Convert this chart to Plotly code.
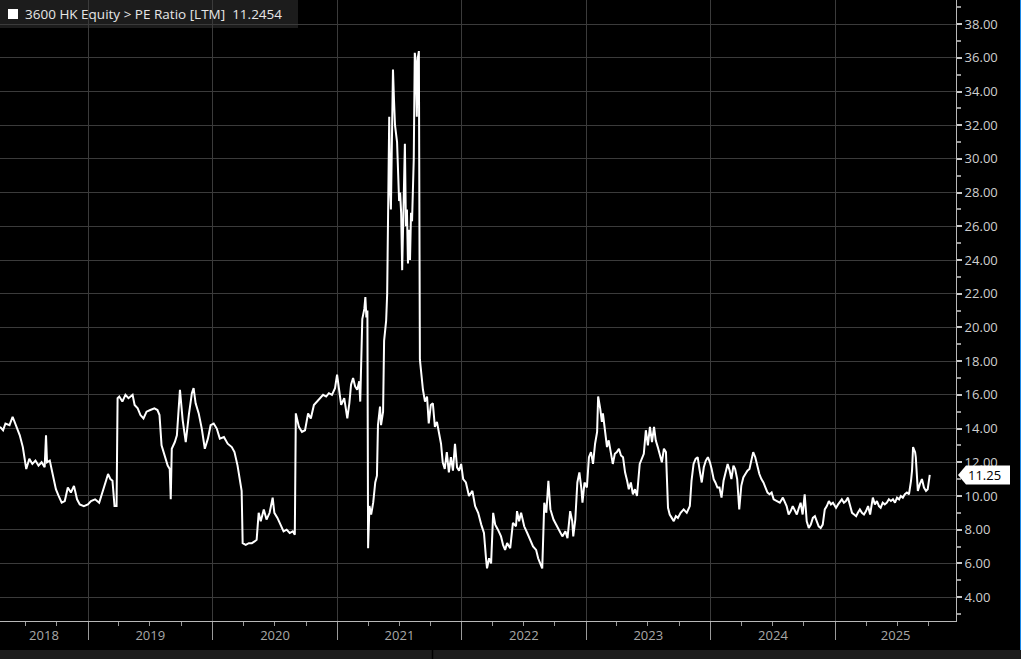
import pandas as pd
import plotly.graph_objects as go

# ---------------- data ----------------
d2018 = ["2018-04-17","2018-04-26","2018-05-03","2018-05-15","2018-05-24","2018-05-30","2018-06-05","2018-06-14",
         "2018-06-23","2018-06-29","2018-07-03","2018-07-12","2018-07-21","2018-07-30","2018-08-08","2018-08-17",
         "2018-08-26","2018-08-30","2018-09-02","2018-09-10","2018-09-19","2018-09-28","2018-10-06","2018-10-15",
         "2018-10-24","2018-11-02","2018-11-11","2018-11-20","2018-11-29","2018-12-07","2018-12-19","2018-12-31"]
v2018 = [14.1,13.9,14.3,14.2,14.7,14.4,14.0,13.6,12.9,12.0,11.6,12.2,11.9,12.1,11.8,12.0,
         11.7,13.6,12.0,12.1,11.2,10.4,10.0,9.6,9.7,10.5,10.2,10.6,9.8,9.5,9.4,9.5]

d2019 = ["2019-01-09","2019-01-21","2019-02-02","2019-02-13","2019-02-22","2019-02-28","2019-03-07","2019-03-13",
         "2019-03-19","2019-03-25","2019-03-28","2019-04-02","2019-04-11","2019-04-20","2019-04-29","2019-05-11",
         "2019-05-17","2019-05-26","2019-06-03","2019-06-12","2019-06-21","2019-07-02","2019-07-14","2019-07-23",
         "2019-07-29","2019-08-04","2019-08-13","2019-08-22","2019-08-28","2019-08-31","2019-09-03","2019-09-12",
         "2019-09-18","2019-09-27","2019-10-05","2019-10-14","2019-10-23","2019-11-01","2019-11-06","2019-11-12",
         "2019-11-21","2019-11-30","2019-12-09","2019-12-18","2019-12-26"]
v2019 = [9.7,9.8,9.6,10.4,10.9,11.3,11.0,10.9,9.4,9.4,15.8,15.9,15.6,16.0,15.8,16.0,
         15.4,15.2,14.8,14.6,15.0,15.1,15.2,15.1,14.8,13.0,12.4,11.8,11.6,9.8,12.8,13.2,
         13.6,16.3,14.5,13.2,14.8,16.1,16.4,15.5,14.9,14.0,12.8,13.4,14.2]

d2020 = ["2020-01-04","2020-01-13","2020-01-22","2020-02-03","2020-02-14","2020-02-26","2020-03-05","2020-03-14",
         "2020-03-20","2020-03-26","2020-03-29","2020-04-07","2020-04-16","2020-04-25","2020-05-03","2020-05-09",
         "2020-05-15","2020-05-21","2020-05-30","2020-06-07","2020-06-16","2020-06-25","2020-06-30","2020-07-09",
         "2020-07-18","2020-07-27","2020-08-05","2020-08-14","2020-08-23","2020-08-29","2020-09-01","2020-09-10",
         "2020-09-19","2020-09-28","2020-10-07","2020-10-15","2020-10-24","2020-11-02","2020-11-11","2020-11-20",
         "2020-11-29","2020-12-07","2020-12-16","2020-12-25","2020-12-31"]
v2020 = [14.3,14.0,13.4,13.5,13.1,12.9,12.6,11.8,11.0,10.3,7.2,7.1,7.2,7.2,7.3,7.4,
         9.0,8.5,9.2,8.6,9.0,9.9,9.0,8.7,8.3,7.9,8.0,7.8,7.9,7.7,14.9,14.1,
         13.8,13.9,14.9,14.6,15.4,15.6,15.8,16.0,15.9,16.1,16.0,16.4,17.2]

d2021 = ["2021-01-06","2021-01-12","2021-01-21","2021-01-30","2021-02-05","2021-02-10","2021-02-16","2021-02-22",
         "2021-02-28","2021-03-06","2021-03-09","2021-03-15","2021-03-21","2021-03-24","2021-03-27","2021-03-30",
         "2021-04-01","2021-04-05","2021-04-10","2021-04-16","2021-04-22","2021-04-27","2021-04-30","2021-05-06",
         "2021-05-09","2021-05-15","2021-05-18","2021-05-24","2021-05-27","2021-05-30","2021-06-02","2021-06-05",
         "2021-06-07","2021-06-10","2021-06-13","2021-06-16","2021-06-19","2021-06-25","2021-06-28","2021-07-01",
         "2021-07-04","2021-07-07","2021-07-10","2021-07-13","2021-07-16","2021-07-18","2021-07-21","2021-07-24",
         "2021-07-27","2021-07-30","2021-08-02","2021-08-05","2021-08-08","2021-08-10","2021-08-13","2021-08-16",
         "2021-08-19","2021-08-22","2021-08-25","2021-08-28","2021-08-31","2021-09-03","2021-09-09","2021-09-15",
         "2021-09-21","2021-09-26","2021-10-02","2021-10-08","2021-10-14","2021-10-20","2021-10-26","2021-11-01",
         "2021-11-06","2021-11-12","2021-11-18","2021-11-24","2021-11-30","2021-12-06","2021-12-12","2021-12-18",
         "2021-12-24","2021-12-30"]
v2021 = [16.2,15.4,15.8,14.6,15.5,16.6,17.0,16.5,16.3,16.8,15.6,20.5,21.1,21.8,20.6,21.0,
         6.9,9.4,8.9,9.6,10.8,11.2,14.2,15.3,14.2,15.0,19.2,20.4,22.0,29.0,32.5,28.0,
         27.0,31.2,35.3,33.5,32.0,31.0,28.3,27.5,28.0,26.8,23.4,27.2,30.0,30.9,26.0,27.0,
         23.8,25.8,24.0,26.8,26.3,27.5,30.0,36.3,35.8,32.5,36.0,36.4,18.1,17.5,16.3,15.6,
         15.9,14.3,15.4,15.5,14.1,14.4,13.7,13.1,12.0,11.6,12.6,11.4,12.3,11.5,13.1,11.7,
         11.5,11.9]

d2022 = ["2022-01-05","2022-01-13","2022-01-22","2022-02-01","2022-02-09","2022-02-18","2022-02-27","2022-03-07",
         "2022-03-13","2022-03-16","2022-03-22","2022-03-28","2022-04-03","2022-04-09","2022-04-17","2022-04-26",
         "2022-05-02","2022-05-08","2022-05-14","2022-05-23","2022-05-31","2022-06-09","2022-06-12","2022-06-18",
         "2022-06-24","2022-07-03","2022-07-12","2022-07-21","2022-07-29","2022-08-07","2022-08-13","2022-08-19",
         "2022-08-25","2022-08-31","2022-09-06","2022-09-12","2022-09-18","2022-09-27","2022-10-05","2022-10-14",
         "2022-10-23","2022-11-01","2022-11-07","2022-11-15","2022-11-21","2022-11-24","2022-11-30","2022-12-06",
         "2022-12-12","2022-12-18","2022-12-21","2022-12-27"]
v2022 = [11.0,10.8,10.0,10.3,9.4,9.0,8.3,7.8,6.3,5.7,6.3,6.0,9.0,8.3,8.0,7.6,
         7.1,6.8,7.2,6.9,8.4,8.2,9.1,8.5,9.0,8.2,7.8,7.4,7.0,6.8,6.3,6.0,
         5.7,9.6,9.0,10.9,9.2,8.6,8.3,8.0,7.6,7.9,7.5,9.1,8.5,7.6,8.6,10.8,
         11.4,10.4,9.6,10.8]

d2023 = ["2023-01-03","2023-01-09","2023-01-15","2023-01-21","2023-01-27","2023-02-02","2023-02-05","2023-02-11",
         "2023-02-16","2023-02-19","2023-02-25","2023-03-03","2023-03-08","2023-03-14","2023-03-20","2023-03-26",
         "2023-04-01","2023-04-07","2023-04-13","2023-04-19","2023-04-25","2023-05-01","2023-05-06","2023-05-12",
         "2023-05-18","2023-05-24","2023-05-30","2023-06-07","2023-06-13","2023-06-19","2023-06-25","2023-07-01",
         "2023-07-07","2023-07-13","2023-07-19","2023-07-24","2023-07-30","2023-08-05","2023-08-11","2023-08-17",
         "2023-08-23","2023-08-29","2023-09-03","2023-09-09","2023-09-15","2023-09-21","2023-09-27","2023-10-05",
         "2023-10-14","2023-10-23","2023-11-01","2023-11-06","2023-11-12","2023-11-18","2023-11-24","2023-11-30",
         "2023-12-06","2023-12-12","2023-12-18","2023-12-24","2023-12-30"]
v2023 = [10.5,12.3,12.6,11.9,13.1,13.8,15.9,15.2,14.4,14.9,13.8,12.9,13.3,12.7,11.9,12.5,
         12.6,12.8,12.4,12.3,11.4,10.9,10.4,10.8,10.1,10.4,10.0,11.9,12.2,12.5,13.9,13.0,
         14.1,13.2,14.1,13.3,12.9,12.4,12.0,12.8,12.6,9.3,8.9,8.7,8.5,8.8,8.7,9.0,
         9.2,9.0,9.4,10.9,11.9,12.2,12.3,11.5,10.8,11.7,12.1,12.3,12.0]

d2024 = ["2024-01-04","2024-01-10","2024-01-15","2024-01-21","2024-01-27","2024-02-02","2024-02-08","2024-02-14",
         "2024-02-20","2024-02-26","2024-03-02","2024-03-08","2024-03-13","2024-03-19","2024-03-25","2024-03-31",
         "2024-04-06","2024-04-12","2024-04-18","2024-04-24","2024-04-30","2024-05-05","2024-05-11","2024-05-17",
         "2024-05-23","2024-05-29","2024-06-04","2024-06-10","2024-06-16","2024-06-22","2024-06-28","2024-07-04",
         "2024-07-13","2024-07-22","2024-07-31","2024-08-05","2024-08-11","2024-08-17","2024-08-23","2024-08-29",
         "2024-09-04","2024-09-10","2024-09-16","2024-09-21","2024-09-27","2024-10-03","2024-10-09","2024-10-15",
         "2024-10-21","2024-10-27","2024-11-02","2024-11-08","2024-11-13","2024-11-19","2024-11-25","2024-12-01",
         "2024-12-07","2024-12-13","2024-12-19","2024-12-25"]
v2024 = [11.6,11.0,10.8,10.5,10.5,9.9,10.9,11.4,11.9,11.5,11.0,11.8,11.6,11.0,9.2,10.6,
         11.1,11.3,11.5,11.6,12.2,12.6,12.3,11.8,11.3,11.0,10.8,10.5,10.2,10.1,10.2,9.8,
         9.7,9.6,9.9,9.7,9.4,8.9,9.1,9.4,9.1,8.9,9.3,9.6,8.9,10.1,8.5,8.1,
         8.3,8.7,8.8,8.5,8.2,8.1,8.3,9.2,9.4,9.7,9.5,9.6]

d2025 = ["2025-01-03","2025-01-09","2025-01-15","2025-01-20","2025-01-26","2025-02-01","2025-02-07","2025-02-13",
         "2025-02-19","2025-02-25","2025-03-03","2025-03-08","2025-03-14","2025-03-20","2025-03-26","2025-04-01",
         "2025-04-07","2025-04-13","2025-04-21","2025-04-27","2025-05-03","2025-05-09","2025-05-14","2025-05-20",
         "2025-05-26","2025-06-01","2025-06-07","2025-06-13","2025-06-19","2025-06-25","2025-07-01","2025-07-07",
         "2025-07-12","2025-07-18","2025-07-24","2025-07-30","2025-08-05","2025-08-11","2025-08-14","2025-08-17",
         "2025-08-23","2025-08-25","2025-08-31","2025-09-06","2025-09-12","2025-09-18","2025-09-24","2025-09-29",
         "2025-10-05"]
v2025 = [9.3,9.5,9.7,9.8,9.6,9.7,9.9,9.4,9.0,8.9,8.8,9.0,9.2,9.0,8.9,9.1,
         9.4,8.9,9.9,9.5,9.7,9.4,9.3,9.6,9.5,9.6,9.8,9.7,9.8,9.6,9.9,9.8,
         10.0,9.9,10.1,10.2,10.1,10.9,11.5,12.9,12.6,12.3,10.3,10.7,11.0,10.5,10.3,10.4,
         11.2454]

year_labels = ["2018", "2019", "2020", "2021", "2022", "2023", "2024", "2025"]
y_ticks = [4, 6, 8, 10, 12, 14, 16, 18, 20, 22, 24, 26, 28, 30, 32, 34, 36, 38]
title_text = "3600 HK Equity > PE Ratio [LTM]"

dates, pe = [], []
for d, v in [(d2018, v2018), (d2019, v2019), (d2020, v2020), (d2021, v2021),
             (d2022, v2022), (d2023, v2023), (d2024, v2024), (d2025, v2025)]:
    assert len(d) == len(v), (d[0], len(d), len(v))
    dates += d
    pe += v

# ---------------- layout geometry ----------------
W, H = 1021, 659
ML, MR, MT, MB = 0, 65, 0, 38
PW, PH = W - ML - MR, H - MT - MB
x_range = ["2018-04-17", "2025-12-21"]
y_range = [2.58, 39.43]

def px(x):      # pixel -> paper x
    return (x - ML) / PW

def py(y):      # pixel (from top) -> paper y
    return 1 - (y - MT) / PH

# year label positions: centre of visible part of each year
r0, r1 = pd.Timestamp(x_range[0]), pd.Timestamp(x_range[1])
label_pos = []
for lab in year_labels:
    ys = max(pd.Timestamp(f"{lab}-01-01"), r0)
    ye = min(pd.Timestamp(f"{int(lab) + 1}-01-01"), r1)
    label_pos.append((ys + (ye - ys) / 2).strftime("%Y-%m-%d"))

FONT = "Open Sans"
GRID = "#3b3b3b"
AXIS = "#b8b8b8"

fig = go.Figure()
fig.add_trace(go.Scatter(x=dates, y=pe, mode="lines",
                         line=dict(color="white", width=2),
                         showlegend=False, hoverinfo="x+y"))
fig.add_trace(go.Scatter(x=[dates[0]], y=[pe[0]], xaxis="x2", mode="markers",
                         marker=dict(opacity=0), showlegend=False, hoverinfo="skip"))

fig.update_layout(
    width=W, height=H,
    margin=dict(l=ML, r=MR, t=MT, b=MB, pad=0),
    paper_bgcolor="black", plot_bgcolor="black",
    font=dict(family=FONT, color="#c8c8c8", size=13),
    showlegend=False,
    xaxis=dict(type="date", range=x_range, tickmode="linear", tick0="2019-01-01", dtick="M12",
               showticklabels=False, ticks="outside", ticklen=18, tickwidth=1, tickcolor="#9a9a9a",
               showgrid=True, gridcolor=GRID, gridwidth=1,
               showline=True, linecolor=AXIS, linewidth=1, zeroline=False,
               minor=dict(dtick="M3", tick0="2018-01-01", ticks="outside", ticklen=4,
                          tickcolor="#9a9a9a", showgrid=False)),
    xaxis2=dict(type="date", range=x_range, overlaying="x", anchor="y", side="bottom",
                tickmode="array", tickvals=label_pos, ticktext=year_labels,
                ticks="outside", ticklen=2, tickcolor="rgba(0,0,0,0)",
                showgrid=False, showline=False, zeroline=False,
                tickfont=dict(family=FONT, size=13, color="#a8a8a8")),
    yaxis=dict(side="right", range=y_range, tickmode="array", tickvals=y_ticks,
               tickformat=".2f", ticks="outside", ticklen=5, tickwidth=2, tickcolor="#c8c8c8",
               showgrid=True, gridcolor=GRID, gridwidth=1, zeroline=False,
               showline=True, linecolor=AXIS, linewidth=1,
               tickfont=dict(family=FONT, size=13, color="#cfcfcf"),
               minor=dict(dtick=1, tick0=1, ticks="outside", ticklen=4, tickcolor="#9a9a9a",
                          showgrid=False)),
)

last = pe[-1]
shapes = [
    # header box
    dict(type="rect", xref="paper", yref="paper", x0=px(0), x1=px(298), y0=py(28), y1=py(0),
         fillcolor="#1c1c1c", line=dict(width=0), layer="below"),
    # white legend square
    dict(type="rect", xref="paper", yref="paper", x0=px(8), x1=px(18), y0=py(19), y1=py(9),
         fillcolor="white", line=dict(width=0), layer="above"),
    # bottom status bar
    dict(type="rect", xref="paper", yref="paper", x0=px(0), x1=px(W), y0=py(H), y1=py(650),
         fillcolor="#1c1c1c", line=dict(width=0)),
    dict(type="line", xref="paper", yref="paper", x0=px(432.5), x1=px(432.5), y0=py(H), y1=py(650),
         line=dict(color="black", width=1.5)),
    # right blue edge
    dict(type="line", xref="paper", yref="paper", x0=px(1020.5), x1=px(1020.5), y0=py(650), y1=py(0),
         line=dict(color="#1e88e5", width=1)),
    # last value pointer box
    dict(type="path", xref="paper", yref="y", xsizemode="pixel", ysizemode="pixel",
         xanchor=1, yanchor=last,
         path="M 2 0 L 10 9.5 L 54 9.5 L 54 -9.5 L 10 -9.5 Z",
         fillcolor="white", line=dict(width=0), layer="above"),
]
fig.update_layout(shapes=shapes)

fig.add_annotation(xref="paper", yref="paper", x=px(23), y=py(14), xanchor="left", yanchor="middle",
                   text=f"{title_text}\u00a0\u00a0{last:.4f}", showarrow=False,
                   font=dict(family=FONT, size=13.5, color="#e6e6e6"))
fig.add_annotation(xref="paper", yref="y", x=1, y=last, xanchor="left", yanchor="middle",
                   xshift=10, text=f"{last:.2f}", showarrow=False,
                   font=dict(family=FONT, size=13, color="black"))

fig.write_html("out.html", config={"displayModeBar": False},
               post_script="document.body.style.margin='0';document.body.style.overflow='hidden';")
